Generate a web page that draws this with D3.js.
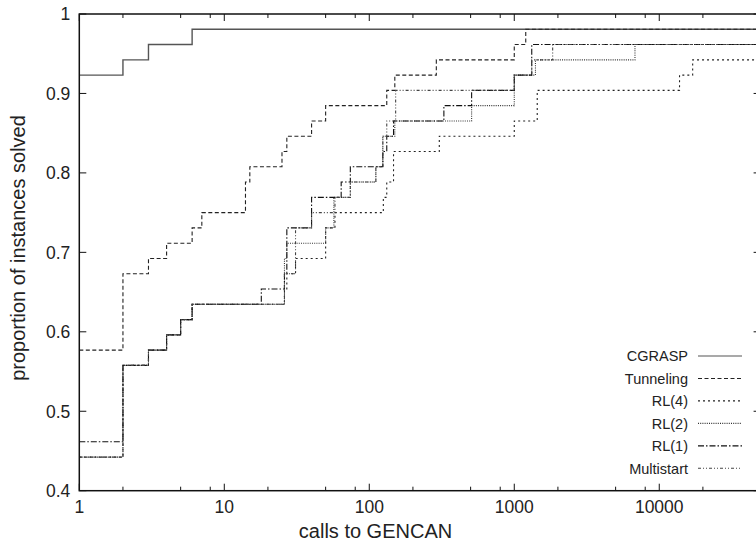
<!DOCTYPE html>
<html>
<head>
<meta charset="utf-8">
<script src="https://cdn.jsdelivr.net/npm/d3@7"></script>
<style>
  body { margin: 0; background: #fff; }
  text { font-family: "Liberation Sans", Arial, Helvetica, sans-serif; fill: #222; }
</style>
</head>
<body>
<div id="chart"></div>
<script>
// 52 instances; each value is the count of solved instances reached at that number of calls
var nInstances = 52;
var xMax = 50000;

var cgrasp     = [[1, 48], [2, 49], [3, 50], [6, 51]];
var tunneling  = [[1, 30], [2, 35], [3, 36], [4, 37], [6, 38], [7, 39], [14, 41], [15, 42],
                  [25, 43], [27, 44], [40, 45], [50, 46], [132, 47], [150, 48], [290, 49],
                  [1000, 50], [1200, 51]];
var rl4        = [[1, 23], [2, 29], [3, 30], [4, 31], [5, 32], [6, 33], [26, 34], [27, 35],
                  [31, 36], [50, 38], [58, 39], [125, 40], [132, 41], [147, 43], [304, 44],
                  [1000, 45], [1440, 47], [13800, 48], [17000, 49]];
var rl2        = [[1, 23], [2, 29], [3, 30], [4, 31], [5, 32], [6, 33], [26, 36], [27, 37],
                  [50, 38], [57, 40], [74, 41], [111, 42], [124, 44], [150, 45], [508, 46],
                  [1000, 48], [1400, 49], [6800, 50]];
var rl1        = [[1, 24], [2, 29], [3, 30], [4, 31], [5, 32], [6, 33], [18, 34], [26, 35],
                  [27, 38], [40, 40], [64, 41], [74, 42], [124, 43], [132, 44], [147, 45],
                  [327, 46], [508, 47], [1000, 48], [1320, 50]];
var multistart = [[1, 23], [2, 29], [3, 30], [4, 31], [5, 32], [6, 33], [26, 35], [31, 38],
                  [40, 39], [58, 40], [74, 41], [111, 42], [124, 44], [132, 45], [152, 47],
                  [1000, 48], [1320, 49], [1840, 50]];

var seriesNames = ['CGRASP', 'Tunneling', 'RL(4)', 'RL(2)', 'RL(1)', 'Multistart'];
var seriesData = [cgrasp, tunneling, rl4, rl2, rl1, multistart];
var seriesDash = ['none', '4,2.5', '2,3', '1,1.2', '6,2,1.5,2', '3,2,1,2,1,2'];
var seriesColor = ['#555', '#222', '#222', '#333', '#111', '#444'];

var xTicks = [1, 10, 100, 1000, 10000];
var xMinor = [2, 5, 8, 20, 50, 80, 200, 500, 800, 2000, 5000, 8000, 20000];
var yTicks = [0.4, 0.5, 0.6, 0.7, 0.8, 0.9, 1];

var width = 756, height = 552;
var plotLeft = 79.3, plotRight = 760.6, plotTop = 14, plotBottom = 490.7;

var svg = d3.select('#chart').append('svg')
  .attr('width', width)
  .attr('height', height);

var x = d3.scaleLog().domain([1, xMax]).range([plotLeft, plotRight]);
var y = d3.scaleLinear().domain([0.4, 1]).range([plotBottom, plotTop]);

// series
var line = d3.line()
  .curve(d3.curveStepAfter)
  .x(function (d) { return x(d[0]); })
  .y(function (d) { return y(d[1] / nInstances); });

svg.append('g').selectAll('path')
    .data(seriesData)
  .enter().append('path')
    .attr('d', function (d) { return line(d.concat([[xMax, d[d.length - 1][1]]])); })
    .attr('fill', 'none')
    .attr('stroke', function (d, i) { return seriesColor[i]; })
    .attr('stroke-width', function (d, i) { return i === 0 ? 1.4 : 1.1; })
    .attr('stroke-dasharray', function (d, i) { return seriesDash[i]; });

// frame and ticks
var axes = svg.append('g').attr('stroke', '#111').attr('fill', 'none');
axes.append('rect')
  .attr('x', plotLeft).attr('y', plotTop)
  .attr('width', plotRight - plotLeft).attr('height', plotBottom - plotTop)
  .attr('stroke-width', 1.5);

xTicks.forEach(function (t) {
  axes.append('line').attr('x1', x(t)).attr('x2', x(t)).attr('y1', plotBottom).attr('y2', plotBottom - 7);
  axes.append('line').attr('x1', x(t)).attr('x2', x(t)).attr('y1', plotTop).attr('y2', plotTop + 7);
});
xMinor.forEach(function (t) {
  axes.append('line').attr('x1', x(t)).attr('x2', x(t)).attr('y1', plotBottom).attr('y2', plotBottom - 4);
  axes.append('line').attr('x1', x(t)).attr('x2', x(t)).attr('y1', plotTop).attr('y2', plotTop + 4);
});
yTicks.forEach(function (t) {
  axes.append('line').attr('x1', plotLeft).attr('x2', plotLeft + 7).attr('y1', y(t)).attr('y2', y(t));
  axes.append('line').attr('x1', plotRight).attr('x2', plotRight - 7).attr('y1', y(t)).attr('y2', y(t));
});

// tick labels
svg.append('g').selectAll('text')
    .data(xTicks)
  .enter().append('text')
    .attr('x', function (d) { return x(d); })
    .attr('y', 513)
    .attr('text-anchor', 'middle')
    .attr('font-size', 17.5)
    .text(function (d) { return d; });

svg.append('g').selectAll('text')
    .data(yTicks)
  .enter().append('text')
    .attr('x', plotLeft - 9)
    .attr('y', function (d) { return y(d) + 6.3; })
    .attr('text-anchor', 'end')
    .attr('font-size', 17.5)
    .text(function (d) { return d === 1 ? '1' : d.toFixed(1); });

// axis titles
svg.append('text')
  .attr('x', 375.5)
  .attr('y', 538)
  .attr('text-anchor', 'middle')
  .attr('font-size', 20)
  .text('calls to GENCAN');

svg.append('text')
  .attr('transform', 'translate(25,' + 248 + ') rotate(-90)')
  .attr('text-anchor', 'middle')
  .attr('font-size', 20)
  .text('proportion of instances solved');

// legend
var legend = svg.append('g').selectAll('g')
    .data(seriesNames)
  .enter().append('g')
    .attr('transform', function (d, i) { return 'translate(0,' + (356 + i * 22.46) + ')'; });

legend.append('text')
  .attr('x', 688)
  .attr('y', 5.3)
  .attr('text-anchor', 'end')
  .attr('font-size', 14.5)
  .text(function (d) { return d; });

legend.append('line')
  .attr('x1', 698).attr('x2', 742)
  .attr('y1', 0).attr('y2', 0)
  .attr('stroke', function (d, i) { return seriesColor[i]; })
  .attr('stroke-width', 1.1)
  .attr('stroke-dasharray', function (d, i) { return seriesDash[i]; });
</script>
</body>
</html>
